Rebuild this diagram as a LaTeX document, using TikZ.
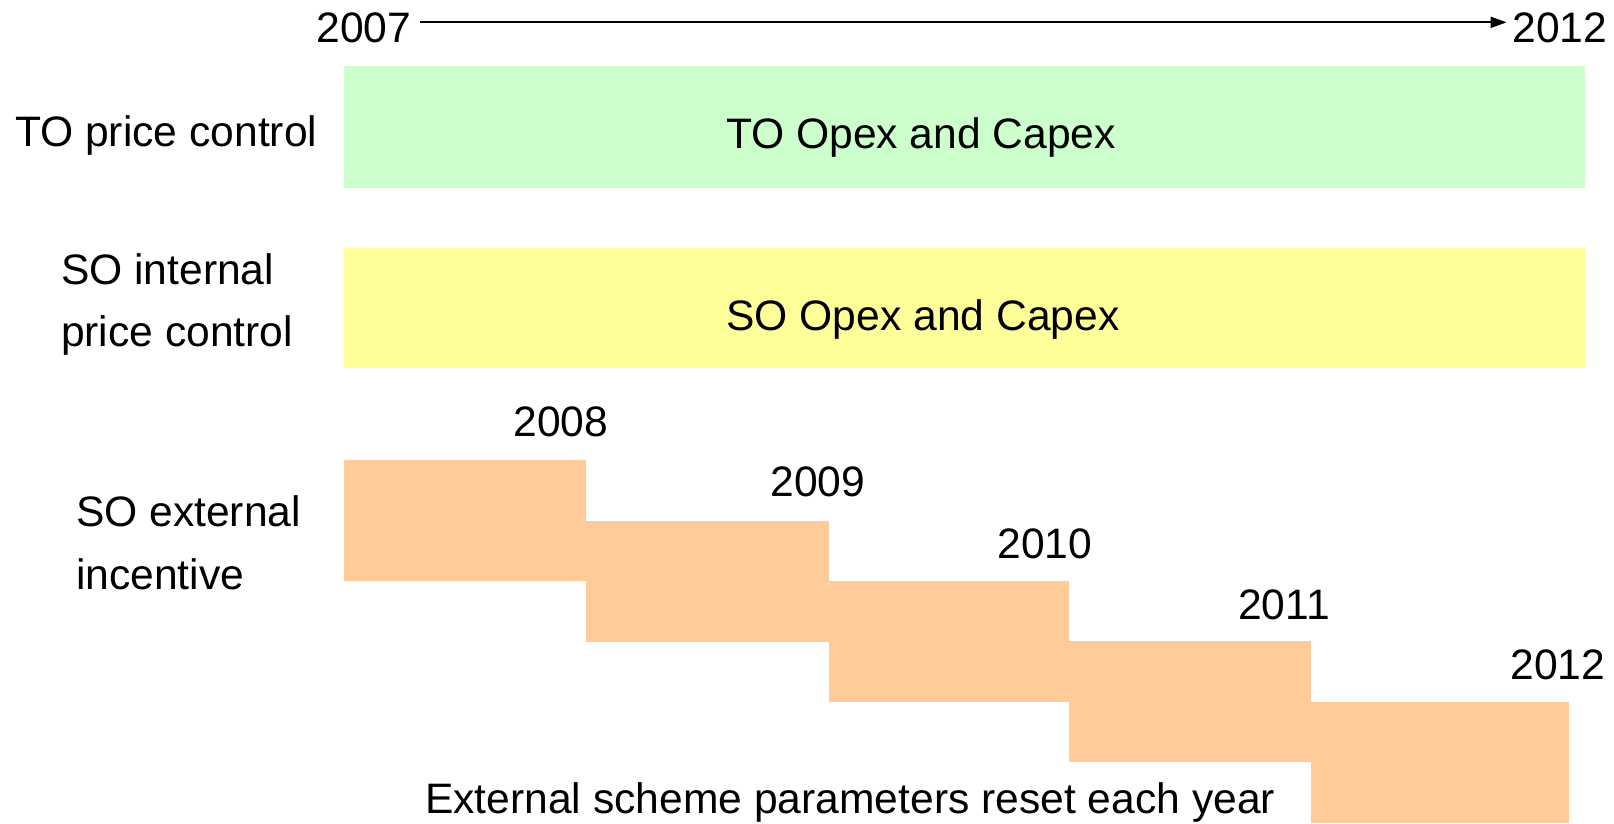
\documentclass[tikz,border=0pt]{standalone}
\usepackage{fontspec}
\setmainfont{Liberation Sans}
\usetikzlibrary{arrows.meta}
\definecolor{tofill}{HTML}{CCFFCC}
\definecolor{sofill}{HTML}{FFFF99}
\definecolor{incfill}{HTML}{FFCC99}
\begin{document}
\begin{tikzpicture}[x=0.02cm,y=-0.02cm,
	txt/.style={font=\fontsize{24.25}{35.3}\selectfont,inner sep=0,outer sep=0,anchor=base},
	bar/.style={inner sep=0,outer sep=0,anchor=north west,minimum width=24.82cm},
	incbox/.style={fill=incfill,inner sep=0,outer sep=0,anchor=north west,minimum height=2.42cm}]
	\useasboundingbox (0,0) rectangle (1614,824);
	\node[txt] (y2007) at (364,43) {2007};
	\node[txt] (y2012top) at (1560,43) {2012};
	\draw[line width=1.1pt,-{Triangle[length=0.32cm,width=0.22cm]}] ([shift={(9,-6)}]y2007.east) -- ([shift={(-6,-6)}]y2012top.west);
	\node[bar,fill=tofill,minimum height=2.44cm] (tobar) at (344,66) {};
	\node[bar,fill=sofill,minimum height=2.4cm] (sobar) at (344,248) {};
	\node[txt] (totext) at (921,149) {TO Opex and Capex};
	\node[txt] (sotext) at (923,331) {SO Opex and Capex};
	\node[txt,anchor=base west] (tolabel) at (15,147) {TO price control};
	\node[txt,anchor=base west,align=left] (solabel) at (61,347) {SO internal\\price control};
	\node[txt,anchor=base west,align=left] (extlabel) at (76,589) {SO external\\incentive};
	\node[incbox,minimum width=4.84cm] (s1) at (344,460) {};
	\node[incbox,minimum width=4.86cm] (s2) at (586,521) {};
	\node[incbox,minimum width=4.8cm] (s3) at (829,581) {};
	\node[incbox,minimum width=4.84cm] (s4) at (1069,641) {};
	\node[incbox,minimum width=5.16cm] (s5) at (1311,702) {};
	\node[txt] (y2008) at (561,437) {2008};
	\node[txt] (y2009) at (818,497) {2009};
	\node[txt] (y2010) at (1045,558) {2010};
	\node[txt] (y2011) at (1284,619) {2011};
	\node[txt] (y2012) at (1558,679) {2012};
	\node[txt,anchor=base west] (reset) at (425,813) {External scheme parameters reset each year};
\end{tikzpicture}
\end{document}
